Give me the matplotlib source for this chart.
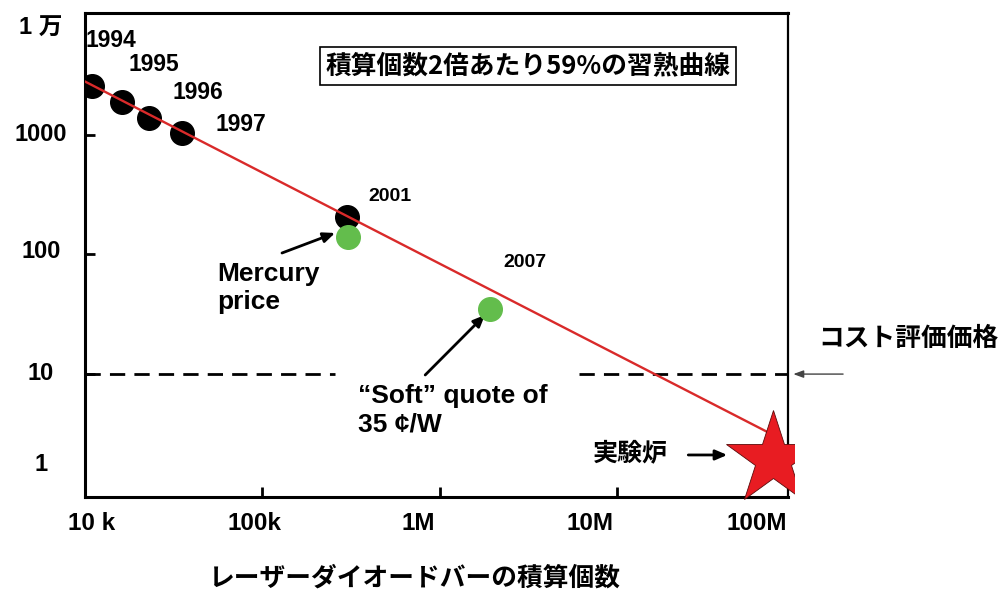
import matplotlib.pyplot as plt
from matplotlib.patches import Rectangle
from matplotlib.transforms import blended_transform_factory

LATIN = ["Liberation Sans", "Noto Sans CJK JP", "DejaVu Sans"]
CJK = ["Noto Sans CJK JP", "DejaVu Sans"]

# yearly laser diode bar price points (cumulative count, $/bar)
years = ["1994", "1995", "1996", "1997", "2001"]
year_x = [1.095e4, 1.62e4, 2.30e4, 3.52e4, 3.0e5]
year_y = [2553, 1858, 1366, 1033, 205]
year_label_x = [1.01e4, 1.75e4, 3.1e4, 5.41e4, 3.95e5]
year_label_y = [6180, 3821, 2230, 1205, 307]

# quoted prices
quote_x = [3.04e5, 1.92e6]
quote_y = [140, 35]

# 59% learning curve (end points)
fit_x = [1.0e4, 7.59e7]
fit_y = [2780, 3.1]

# experimental reactor target
star_x = [7.59e7]
star_y = [1.95]

cost_target = 10

xtick_vals = [1e5, 1e6, 1e7]
xtick_labels = ["10 k", "100k", "1M", "10M", "100M"]
xlabel_pos = [1.095e4, 8.97e4, 7.55e5, 7.05e6, 6.17e7]
ytick_vals = [10, 100, 1000]
ytick_labels = ["1", "10", "100", "1000", "1 万"]
ylabel_pos = [1.74, 10.2, 105, 1000, 7800]

fig = plt.figure(figsize=(9.98, 5.96), dpi=100)
ax = fig.add_axes([0.0852, 0.1661, 0.7044, 0.8121])
ax.set_xscale("log")
ax.set_yscale("log")
ax.set_xlim(1e4, 9.2e7)
ax.set_ylim(0.94, 10390)

for s in ax.spines.values():
    s.set_linewidth(2.2)
ax.spines["right"].set_linewidth(1.6)

ax.set_xticks(xtick_vals)
ax.set_yticks(ytick_vals)
ax.minorticks_off()
ax.tick_params(which="major", direction="in", length=7, width=2,
               labelbottom=False, labelleft=False)

# cost target level
ax.plot([1e4, 2.57e5], [cost_target, cost_target], color="black", lw=2,
        dashes=(5.5, 3.3), clip_on=False)
ax.plot([6.11e6, 9.2e7], [cost_target, cost_target], color="black", lw=2,
        dashes=(5.5, 3.3), clip_on=False)

ax.plot(fit_x, fit_y, color="#d92a2a", lw=1.7, zorder=3)
ax.plot(year_x, year_y, "o", color="black", ms=17, zorder=2)
ax.plot(quote_x, quote_y, "o", color="#63bd4c", ms=17, zorder=4)

star = ax.plot(star_x, star_y, "*", color="#e81c22", mec="#5a0a0a", mew=0.6,
               ms=71, zorder=5)[0]
star.set_clip_path(Rectangle((-0.2, -0.2), 1.208, 1.4, transform=ax.transAxes))

# year labels
for i, lab in enumerate(years):
    ax.text(year_label_x[i], year_label_y[i], lab,
            fontsize=16.5 if i < 4 else 14, fontweight="bold", family=LATIN,
            ha="left", va="center")
ax.text(2.28e6, 84.8, "2007", fontsize=14, fontweight="bold",
        family=LATIN, ha="left", va="center")

ax.text(5.56e4, 52.4, "Mercury\nprice", fontsize=19, fontweight="bold",
        family=LATIN, ha="left", va="center", linespacing=1.22)
ax.text(3.47e5, 5.01, "\u201cSoft\u201d quote of\n35 \u00a2/W", fontsize=19,
        fontweight="bold", family=LATIN, ha="left", va="center",
        linespacing=1.22)
ax.text(1.19e7, 2.19, "実験炉", fontsize=18, fontweight="bold",
        family=CJK, ha="center", va="center")
ax.text(1.36e8, 20.0, "コスト評価価格", fontsize=18.5, fontweight="bold",
        family=CJK, ha="left", va="center")
ax.text(3.15e6, 3750, "積算個数2倍あたり59%の習熟曲線", fontsize=18.5,
        fontweight="bold", family=CJK, ha="center", va="center",
        bbox=dict(boxstyle="square,pad=0.22", fc="white", ec="black", lw=1.2))

arrow = dict(arrowstyle="-|>,head_length=0.7,head_width=0.3", color="black",
             lw=2, shrinkA=0, shrinkB=0)
ax.annotate("", xy=(2.57e5, 151), xytext=(1.29e5, 102.7), arrowprops=arrow)
ax.annotate("", xy=(1.80e6, 31.2), xytext=(8.28e5, 9.83), arrowprops=arrow)
ax.annotate("", xy=(4.18e7, 2.11), xytext=(2.52e7, 2.11), arrowprops=arrow)
ax.annotate("", xy=(9.85e7, cost_target), xytext=(1.88e8, cost_target),
            arrowprops=dict(arrowstyle="-|>,head_length=0.6,head_width=0.22",
                            color="#444444", lw=1, shrinkA=0, shrinkB=0),
            annotation_clip=False)

# tick labels
bx = blended_transform_factory(ax.transData, ax.transAxes)
for x, lab in zip(xlabel_pos, xtick_labels):
    ax.text(x, -0.054, lab, transform=bx, fontsize=17.5, fontweight="bold",
            family=LATIN, ha="center", va="center")
by = blended_transform_factory(ax.transAxes, ax.transData)
for y, lab in zip(ylabel_pos, ytick_labels):
    ax.text(-0.0626, y, lab, transform=by, fontsize=17, fontweight="bold",
            family=LATIN, ha="center", va="center")

fig.text(415 / 998, 0.030, "レーザーダイオードバーの積算個数", fontsize=18.5,
         fontweight="bold", family=CJK, ha="center", va="center")

fig.savefig("out.png", dpi=100)
